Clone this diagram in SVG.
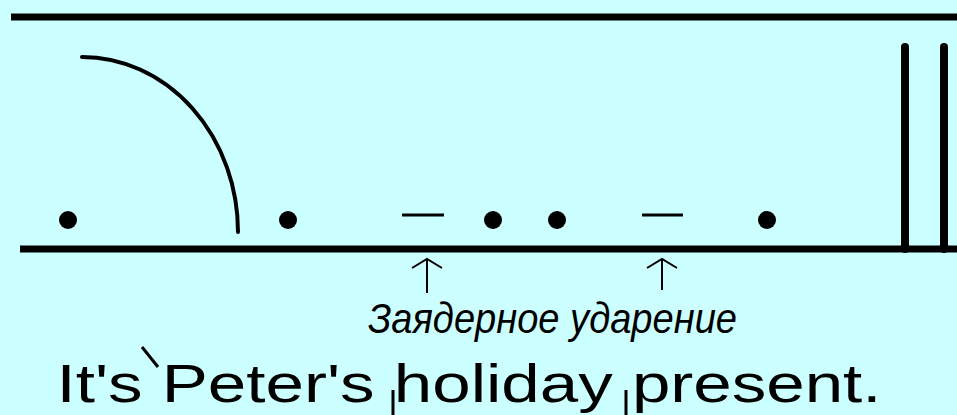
<svg xmlns="http://www.w3.org/2000/svg" width="957" height="415" viewBox="0 0 957 415">
<style>
.ln{stroke:#000;fill:none}
.dot{fill:#000}
.thin{stroke:#000;stroke-width:2;fill:none}
</style>
<rect x="0" y="0" width="957" height="415" fill="#CCFFFF"/>
<g id="staff">
<line class="ln" x1="11" y1="17" x2="957" y2="17" stroke-width="7"/>
<line class="ln" x1="20" y1="249" x2="957" y2="249" stroke-width="7"/>
<line class="ln" x1="905" y1="47" x2="905" y2="249" stroke-width="8" stroke-linecap="round"/>
<line class="ln" x1="944" y1="47" x2="944" y2="249" stroke-width="8" stroke-linecap="round"/>
</g>
<g id="contour">
<path class="ln" d="M82,57 A156,175 0 0 1 238,232" stroke-width="4" stroke-linecap="round"/>
<circle class="dot" cx="68" cy="220" r="9"/>
<circle class="dot" cx="288" cy="220" r="9"/>
<line class="ln" x1="402" y1="215" x2="444" y2="215" stroke-width="3"/>
<circle class="dot" cx="493" cy="220" r="9"/>
<circle class="dot" cx="557" cy="220" r="9"/>
<line class="ln" x1="642" y1="215" x2="683" y2="215" stroke-width="3"/>
<circle class="dot" cx="767" cy="220" r="9"/>
</g>
<g id="arrows">
<path class="thin" d="M427,293 V259 M412,268 L427,259 L442,268"/>
<path class="thin" d="M662,290 V259 M647,268 L662,259 L677,268"/>
</g>
<g id="label">
<text x="368" y="333" font-family="Liberation Sans, Arial, sans-serif" font-style="italic" font-size="42" textLength="369" lengthAdjust="spacingAndGlyphs">Заядерное ударение</text>
</g>
<g id="sentence">
<text x="56.5" y="402" font-family="Liberation Sans, Arial, sans-serif" font-size="53" textLength="825" lengthAdjust="spacingAndGlyphs">It's Peter's holiday present.</text>
<line class="ln" x1="142" y1="347" x2="158" y2="367" stroke-width="3"/>
<line class="ln" x1="393" y1="390" x2="393" y2="415" stroke-width="3"/>
<line class="ln" x1="626" y1="390" x2="626" y2="415" stroke-width="3"/>
</g>
</svg>
